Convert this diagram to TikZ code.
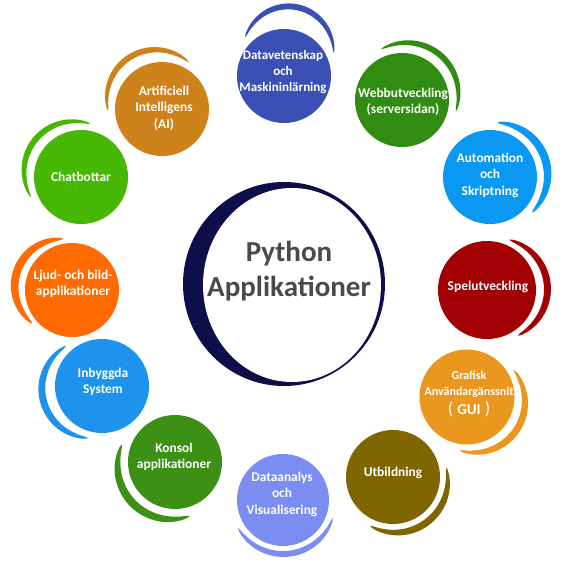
\documentclass[tikz,border=0pt]{standalone}
\usepackage{fontspec}
\setmainfont{Carlito}
\usetikzlibrary{shapes.geometric}

\definecolor{navyring}{HTML}{0E0E48}
\definecolor{titlegray}{HTML}{4A4A4A}
\definecolor{cData}{HTML}{3A50B4}
\definecolor{cWeb}{HTML}{318C12}
\definecolor{cAuto}{HTML}{0B98F2}
\definecolor{cSpel}{HTML}{A30003}
\definecolor{cGui}{HTML}{E9971F}
\definecolor{cUtb}{HTML}{806600}
\definecolor{cAnal}{HTML}{7C8DF2}
\definecolor{cKons}{HTML}{3B9015}
\definecolor{cInb}{HTML}{1E93EE}
\definecolor{cLjud}{HTML}{FF6B00}
\definecolor{cChat}{HTML}{46B804}
\definecolor{cAI}{HTML}{CD821C}

\tikzset{
  disc/.style={circle, fill=#1, draw=none, inner sep=0pt},
  lbl/.style={text=white, font=\fontsize{13.4}{16.5}\selectfont\bfseries,
              align=center, inner sep=0pt},
}

% tapered band around a bubble:
% #1 centre, #2 colour, #3 start angle, #4 end angle,
% #5 radius at the tips, #6 outer radius in the middle, #7 maximum width
\newcommand\drawswoosh[7]{%
  \begin{scope}[shift={(#1)}]
    \fill[#2] plot[domain=0:1, samples=50, variable=\pp]
        ({#3+(#4-#3)*\pp}:{#5+(#6-#7/2-#5)*sin(180*\pp)+#7/2*sqrt(abs(sin(180*\pp)))})
      -- plot[domain=1:0, samples=50, variable=\pp]
        ({#3+(#4-#3)*\pp}:{#5+(#6-#7/2-#5)*sin(180*\pp)-#7/2*sqrt(abs(sin(180*\pp)))})
      -- cycle;
  \end{scope}}

\begin{document}
\begin{tikzpicture}[x=1pt, y=1pt]
\useasboundingbox[fill=white] (0,0) rectangle (570,-570);

% central ring
\node[ellipse, fill=navyring, minimum width=202pt, minimum height=204pt, inner sep=0pt] (ring) at (284,-284) {};
\node[ellipse, fill=white, minimum width=178pt, minimum height=194pt, inner sep=0pt] (hole) at (292,-285) {};
\node[text=titlegray, font=\fontsize{29}{35}\selectfont\bfseries, align=center] (title) at (289,-271) {Python\\Applikationer};

% bubbles
\node[disc=cData, minimum size=94pt] (c1) at (284,-76) {};
\node[disc=cWeb,  minimum size=94pt] (c2) at (402,-100) {};
\node[disc=cAuto, minimum size=94pt] (c3) at (490,-177) {};
\node[disc=cSpel, minimum size=98pt] (c4) at (487,-290) {};
\node[disc=cGui,  minimum size=95pt] (c5) at (467,-397) {};
\node[disc=cUtb,  minimum size=94pt] (c6) at (393,-477) {};
\node[disc=cAnal, minimum size=92pt] (c7) at (283,-500) {};
\node[disc=cKons, minimum size=94pt] (c8) at (175,-462) {};
\node[disc=cInb,  minimum size=94pt] (c9) at (102,-386) {};
\node[disc=cLjud, minimum size=94pt] (c10) at (72,-290) {};
\node[disc=cChat, minimum size=94pt] (c11) at (81,-177) {};
\node[disc=cAI,   minimum size=94pt] (c12) at (162,-109) {};

% swooshes
\drawswoosh{c1.center}{cData}{135}{25}{55}{73}{6}
\drawswoosh{c2.center}{cWeb}{112}{-12}{55}{62}{6}
\drawswoosh{c3.center}{cAuto}{82}{-40}{55}{62}{8}
\drawswoosh{c4.center}{cSpel}{66}{-56}{55}{64}{7}
\drawswoosh{c5.center}{cGui}{30}{-98}{54}{63}{7}
\drawswoosh{c6.center}{cUtb}{10}{-115}{54}{60}{7}
\drawswoosh{c7.center}{cAnal}{212}{340}{53}{57}{6}
\drawswoosh{c8.center}{cKons}{162}{285}{56}{63}{8}
\drawswoosh{c9.center}{cInb}{132}{255}{54}{64}{7}
\drawswoosh{c10.center}{cLjud}{100}{220}{52}{62}{8}
\drawswoosh{c11.center}{cChat}{80}{202}{54}{62}{6}
\drawswoosh{c12.center}{cAI}{60}{182}{54}{64}{6}

% labels
\node[lbl, font=\fontsize{13}{16}\selectfont\bfseries] (t1) at (283,-72) {Datavetenskap\\och\\Maskininlärning};
\node[lbl] (t2) at (403,-102) {Webbutveckling\\(serversidan)};
\node[lbl] (t3) at (490,-175) {Automation\\och\\Skriptning};
\node[lbl] (t4) at (488,-287) {Spelutveckling};
\node[lbl, font=\fontsize{12}{16}\selectfont\bfseries] (t5) at (469,-394)
  {Grafisk\\Användargänssnit\\[3pt]{\fontsize{18}{18}\selectfont\mdseries( {\fontsize{15}{16}\selectfont\bfseries GUI} )}};
\node[lbl] (t6) at (393,-473) {Utbildning};
\node[lbl] (t7) at (282,-494) {Dataanalys\\och\\Visualisering};
\node[lbl] (t8) at (174,-457) {Konsol\\applikationer};
\node[lbl] (t9) at (103,-382) {Inbyggda\\System};
\node[lbl] (t10) at (73,-284) {Ljud- och bild-\\applikationer};
\node[lbl] (t11) at (81,-177) {Chatbottar};
\node[lbl] (t12) at (164,-108) {Artificiell\\Intelligens\\(AI)};
\end{tikzpicture}
\end{document}
